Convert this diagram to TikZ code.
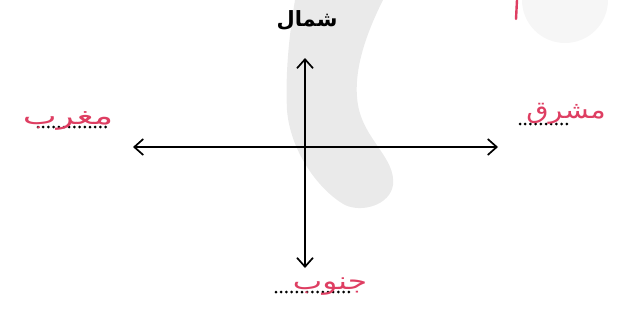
\documentclass[tikz,border=0pt]{standalone}
\usepackage{fontspec}
\usetikzlibrary{arrows.meta}
\newfontfamily\arabicfont[Script=Arabic]{DejaVu Sans}
\TeXXeTstate=1
\definecolor{inkred}{RGB}{222,62,98}
\definecolor{scangray}{RGB}{234,234,234}
\tikzset{
  axis/.style={line width=1.7pt,{Straight Barb[length=9pt,width=16pt,line width=1.7pt]}-{Straight Barb[length=9pt,width=16pt,line width=1.7pt]}},
  dotline/.style={line width=3pt,line cap=round,dash pattern=on 0pt off 5.2pt},
  hand/.style={text=inkred,font=\arabicfont\fontsize{24}{26}\selectfont,inner sep=0pt}
}
\begin{document}
\begin{tikzpicture}[x=1pt,y=-1pt,every node/.style={font=\arabicfont}]
\useasboundingbox (0,0) rectangle (617,322);
% scan shadows
\fill[scangray] (295,0) -- (383,0) .. controls (368,30) and (352,70) .. (358,105) .. controls (364,140) and (396,158) .. (393,185) .. controls (390,205) and (362,213) .. (345,205) .. controls (318,190) and (290,150) .. (287,110) .. controls (285,70) and (290,30) .. (295,0) -- cycle;
\fill[scangray!45] (522,0) arc[start angle=180,end angle=0,radius=43] -- cycle;
\draw[inkred,line width=2.4pt,line cap=round] (517,0) -- (516,19);
% axes
\coordinate (N) at (305,58);
\coordinate (S) at (305,268);
\coordinate (W) at (133,147);
\coordinate (E) at (498,147);
\draw[axis] (N) -- (S);
\draw[axis] (W) -- (E);
\node[font=\arabicfont\bfseries\fontsize{21}{22}\selectfont] (shamal) at (307,20) {\beginR شمال\endR};
% blanks
\coordinate (w1) at (38,127); \coordinate (w2) at (108,127);
\coordinate (e1) at (520,124); \coordinate (e2) at (570,124);
\coordinate (s1) at (276,292); \coordinate (s2) at (350,292);
\draw[dotline] (w1) -- (w2);
\draw[dotline] (e1) -- (e2);
\draw[dotline] (s1) -- (s2);
% answers
\node[hand,xscale=1.5] (gharb) at (68,121) {\beginR مغرب\endR};
\node[hand,xscale=1.2] (sharq) at (566,114) {\beginR مشرق\endR};
\node[hand,xscale=1.3] (janub) at (330,287) {\beginR جنوب\endR};
\end{tikzpicture}
\end{document}
